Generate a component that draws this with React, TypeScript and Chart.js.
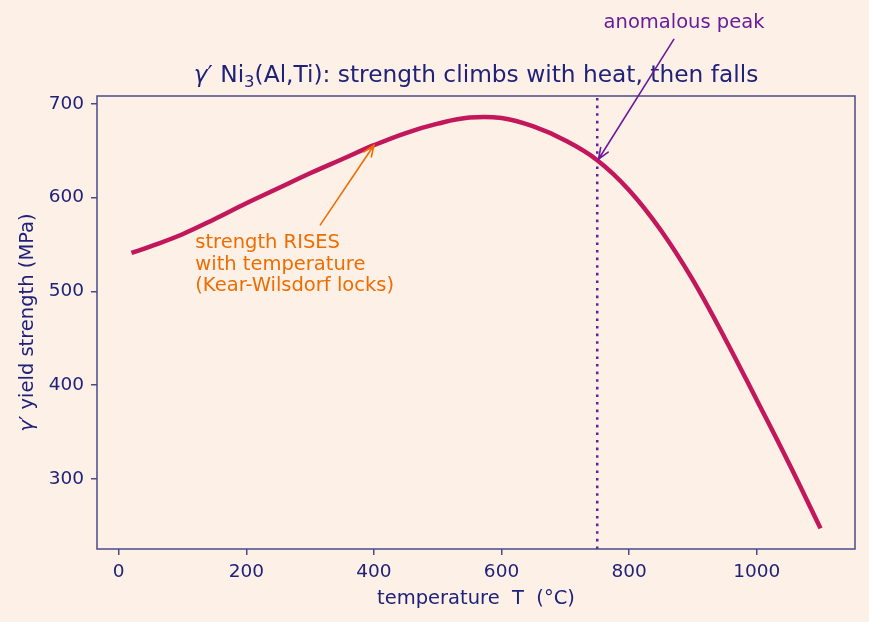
import { useEffect, useRef } from "react";
import { Chart, registerables } from "chart.js";

Chart.register(...registerables);

// Yield strength of γ′ Ni3(Al,Ti) versus temperature
const temperatureC = [20, 50, 100, 150, 200, 250, 300, 350, 400, 450, 500, 550, 600, 650, 700, 750, 800, 850, 900, 950, 1000, 1050, 1100];
const yieldMPa = [541, 548, 561, 577, 594, 610, 626, 641, 656, 669, 679, 685.5, 685, 676, 661, 640, 608, 565, 512, 450, 384, 317, 247];

const xTickValues = [0, 200, 400, 600, 800, 1000];
const yTickValues = [300, 400, 500, 600, 700];

const peakTemperature = 750;

const FONT = "'DejaVu Sans', sans-serif";
const BG = "#fdf1e7";
const NAVY = "#1f2278";
const SPINE = "#4a4a8a";
const CURVE = "#c2185b";
const PURPLE = "#6a1b9a";
const ORANGE = "#ef6c00";
const LABEL_SIZE = 19.5;

function arrow(ctx: CanvasRenderingContext2D, x0: number, y0: number, x1: number, y1: number, color: string) {
  const ang = Math.atan2(y1 - y0, x1 - x0);
  const head = 12;
  const spread = 0.38;
  ctx.save();
  ctx.strokeStyle = color;
  ctx.lineWidth = 1.6;
  ctx.lineCap = "round";
  ctx.beginPath();
  ctx.moveTo(x0, y0);
  ctx.lineTo(x1, y1);
  ctx.moveTo(x1 - head * Math.cos(ang - spread), y1 - head * Math.sin(ang - spread));
  ctx.lineTo(x1, y1);
  ctx.lineTo(x1 - head * Math.cos(ang + spread), y1 - head * Math.sin(ang + spread));
  ctx.stroke();
  ctx.restore();
}

const decorations = {
  id: "decorations",
  beforeDraw(chart: any) {
    const ctx = chart.ctx as CanvasRenderingContext2D;
    ctx.save();
    ctx.fillStyle = BG;
    ctx.fillRect(0, 0, chart.width, chart.height);
    ctx.restore();
  },
  afterDraw(chart: any) {
    const ctx = chart.ctx as CanvasRenderingContext2D;
    const { left, right, top, bottom } = chart.chartArea;
    const xs = chart.scales.x;
    const ys = chart.scales.y;
    const cx = (left + right) / 2;

    // frame
    ctx.save();
    ctx.strokeStyle = SPINE;
    ctx.lineWidth = 1.5;
    ctx.strokeRect(left, top, right - left, bottom - top);
    ctx.restore();

    // title with subscript
    ctx.save();
    ctx.fillStyle = NAVY;
    ctx.textBaseline = "alphabetic";
    const big = 23.3;
    const small = 16.5;
    const parts: { t: string; font: string; dy: number }[] = [
      { t: "γ", font: `italic ${big}px ${FONT}`, dy: 0 },
      { t: "′ Ni", font: `${big}px ${FONT}`, dy: 0 },
      { t: "3", font: `${small}px ${FONT}`, dy: 5 },
      { t: "(Al,Ti): strength climbs with heat, then falls", font: `${big}px ${FONT}`, dy: 0 },
    ];
    let total = 0;
    for (const p of parts) {
      ctx.font = p.font;
      total += ctx.measureText(p.t).width;
    }
    let x = cx - total / 2;
    const by = 82;
    for (const p of parts) {
      ctx.font = p.font;
      ctx.fillText(p.t, x, by + p.dy);
      x += ctx.measureText(p.t).width;
    }
    ctx.restore();

    // y axis label
    ctx.save();
    ctx.fillStyle = NAVY;
    ctx.translate(33, (top + bottom) / 2);
    ctx.rotate(-Math.PI / 2);
    ctx.textBaseline = "alphabetic";
    const yParts = [
      { t: "γ", font: `italic ${LABEL_SIZE}px ${FONT}` },
      { t: "′ yield strength (MPa)", font: `${LABEL_SIZE}px ${FONT}` },
    ];
    let yw = 0;
    for (const p of yParts) {
      ctx.font = p.font;
      yw += ctx.measureText(p.t).width;
    }
    let yx = -yw / 2;
    for (const p of yParts) {
      ctx.font = p.font;
      ctx.fillText(p.t, yx, 0);
      yx += ctx.measureText(p.t).width;
    }
    ctx.restore();

    // x axis label
    ctx.save();
    ctx.fillStyle = NAVY;
    ctx.font = `${LABEL_SIZE}px ${FONT}`;
    ctx.textAlign = "center";
    ctx.textBaseline = "alphabetic";
    ctx.fillText("temperature  T  (°C)", cx, 604);
    ctx.restore();

    // orange annotation
    const tipA = { x: xs.getPixelForValue(400), y: ys.getPixelForValue(656) };
    const fromA = { x: xs.getPixelForValue(316), y: ys.getPixelForValue(571) };
    arrow(ctx, fromA.x, fromA.y, tipA.x, tipA.y, ORANGE);
    ctx.save();
    ctx.fillStyle = ORANGE;
    ctx.font = `${LABEL_SIZE}px ${FONT}`;
    ctx.textAlign = "left";
    ctx.textBaseline = "alphabetic";
    const tx = xs.getPixelForValue(120);
    const lines = ["strength RISES", "with temperature", "(Kear-Wilsdorf locks)"];
    lines.forEach((l, i) => ctx.fillText(l, tx, 248 + i * 21.6));
    ctx.restore();

    // purple annotation
    const tipB = { x: xs.getPixelForValue(752), y: ys.getPixelForValue(641) };
    const fromB = { x: xs.getPixelForValue(870), y: ys.getPixelForValue(769) };
    arrow(ctx, fromB.x, fromB.y, tipB.x, tipB.y, PURPLE);
    ctx.save();
    ctx.fillStyle = PURPLE;
    ctx.font = `${LABEL_SIZE}px ${FONT}`;
    ctx.textAlign = "center";
    ctx.textBaseline = "alphabetic";
    ctx.fillText("anomalous peak", xs.getPixelForValue(886), 28);
    ctx.restore();
  },
};

export default function App() {
  const ref = useRef<HTMLCanvasElement | null>(null);

  useEffect(() => {
    if (!ref.current) return;
    const chart = new Chart(ref.current, {
      type: "line",
      data: {
        datasets: [
          {
            data: temperatureC.map((t, i) => ({ x: t, y: yieldMPa[i] })),
            borderColor: CURVE,
            borderWidth: 4.5,
            pointRadius: 0,
            tension: 0.4,
            fill: false,
            order: 1,
          },
          {
            data: [
              { x: peakTemperature, y: 225 },
              { x: peakTemperature, y: 708.5 },
            ],
            borderColor: PURPLE,
            borderWidth: 2.5,
            borderDash: [2.6, 5],
            borderCapStyle: "butt",
            pointRadius: 0,
            fill: false,
            order: 2,
          },
        ],
      },
      options: {
        responsive: false,
        animation: false,
        layout: { padding: { left: 0, right: 14, top: 96, bottom: 0 } },
        plugins: {
          legend: { display: false },
          tooltip: { enabled: false },
          title: { display: false },
        },
        scales: {
          x: {
            type: "linear",
            min: -34,
            max: 1154,
            afterBuildTicks: (s: any) => {
              s.ticks = xTickValues.map((v) => ({ value: v }));
            },
            afterFit: (s: any) => {
              s.height = 73;
            },
            border: { display: false },
            grid: { drawOnChartArea: false, drawTicks: true, tickLength: 6, color: SPINE, lineWidth: 1.5 },
            ticks: {
              color: NAVY,
              font: { family: FONT, size: 18.5 },
              padding: 6,
              maxRotation: 0,
              callback: (v: any) => String(v),
            },
          },
          y: {
            type: "linear",
            min: 225,
            max: 708.5,
            afterBuildTicks: (s: any) => {
              s.ticks = yTickValues.map((v) => ({ value: v }));
            },
            afterFit: (s: any) => {
              s.width = 97;
            },
            border: { display: false },
            grid: { drawOnChartArea: false, drawTicks: true, tickLength: 6, color: SPINE, lineWidth: 1.5 },
            ticks: {
              color: NAVY,
              font: { family: FONT, size: 18.5 },
              padding: 7,
              callback: (v: any) => String(v),
            },
          },
        },
      } as any,
      plugins: [decorations],
    });
    return () => chart.destroy();
  }, []);

  return (
    <div style={{ position: "absolute", left: 0, top: 0, width: 869, height: 622, background: BG }}>
      <canvas ref={ref} width={869} height={622} style={{ display: "block" }} />
    </div>
  );
}
